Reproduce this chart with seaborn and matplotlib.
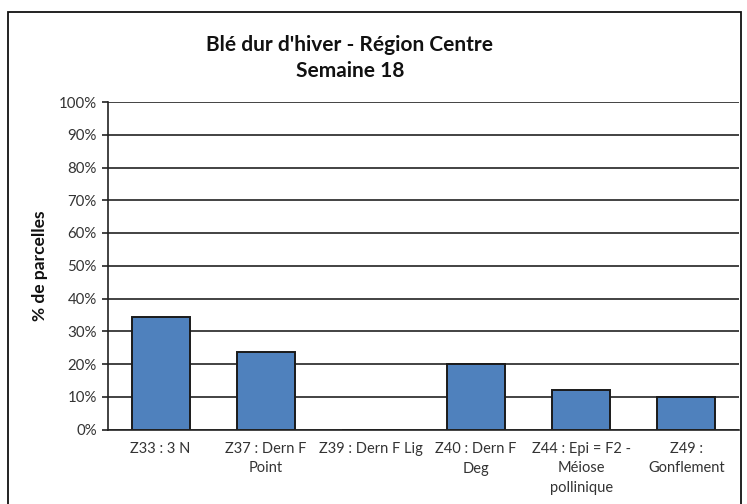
import matplotlib
matplotlib.use("Agg")
import matplotlib.pyplot as plt
import seaborn as sns
import pandas as pd
from matplotlib.patches import Rectangle
from matplotlib.ticker import FixedLocator

categories = ["Z33 : 3 N", "Z37 : Dern F\nPoint", "Z39 : Dern F Lig",
              "Z40 : Dern F\nDeg", "Z44 : Epi = F2 -\nMéiose\npollinique",
              "Z49 :\nGonflement"]
values = [34.3, 23.7, 0.0, 20.0, 12.0, 10.0]
yticks = [0, 10, 20, 30, 40, 50, 60, 70, 80, 90, 100]
ytick_labels = [f"{v}%" for v in yticks]
title_lines = ["Blé dur d'hiver - Région Centre", "Semaine 18"]
ylabel = "% de parcelles"

sns.set_theme(style="white")
plt.rcParams['font.family'] = ['Lato', 'DejaVu Sans']

df = pd.DataFrame({"cat": categories, "val": values})

fig = plt.figure(figsize=(7.47, 5.04), dpi=100)
W, H = 747, 504
ax = fig.add_axes([108 / W, 1 - 429.5 / H, (739 - 108) / W, (429.5 - 102) / H])

sns.barplot(data=df, x="cat", y="val", ax=ax, color="#4F81BD", width=0.55,
            edgecolor="#1a1a1a", linewidth=1.4, saturation=1)
for p in ax.patches:
    p.set_zorder(3)

ax.set_ylim(0, 100)
ax.set_xlim(-0.5, len(categories) - 0.5)
ax.set_yticks(yticks)
ax.set_yticklabels(ytick_labels, fontsize=10.8, color="#333333")
ax.set_xticks(range(len(categories)))
ax.set_xticklabels(categories, fontsize=10.5, color="#333333", linespacing=1.5,
                   va="top")
ax.tick_params(axis="x", which="major", length=0, pad=9)
ax.xaxis.set_minor_locator(FixedLocator([i + 0.5 for i in range(len(categories))]))
ax.tick_params(axis="x", which="minor", direction="in", length=4, width=1.2,
               color="#222222")
ax.tick_params(axis="y", which="major", direction="out", length=4, width=1.2,
               color="#222222", pad=4, left=True)

ax.yaxis.grid(True, color="#222222", linewidth=1.2, zorder=0)
ax.set_axisbelow(True)
for s in ["top", "right"]:
    ax.spines[s].set_visible(False)
for s in ["left", "bottom"]:
    ax.spines[s].set_color("#222222")
    ax.spines[s].set_linewidth(1.2)
    ax.spines[s].set_zorder(4)

ax.set_xlabel("")
ax.set_ylabel(ylabel, fontsize=12.5, fontweight="bold", color="#111111", labelpad=8)

fig.text(350 / W, 1 - 45 / H, title_lines[0], ha="center", va="center",
         fontsize=15, fontweight="bold", color="#111111")
fig.text(350 / W, 1 - 71 / H, title_lines[1], ha="center", va="center",
         fontsize=15, fontweight="bold", color="#111111")

fig.add_artist(Rectangle((8 / W, -0.05), (741 - 8) / W, 1 - 12 / H + 0.05,
                         transform=fig.transFigure, fill=False,
                         edgecolor="#111111", linewidth=1.3))

fig.savefig("out.png", dpi=100)
